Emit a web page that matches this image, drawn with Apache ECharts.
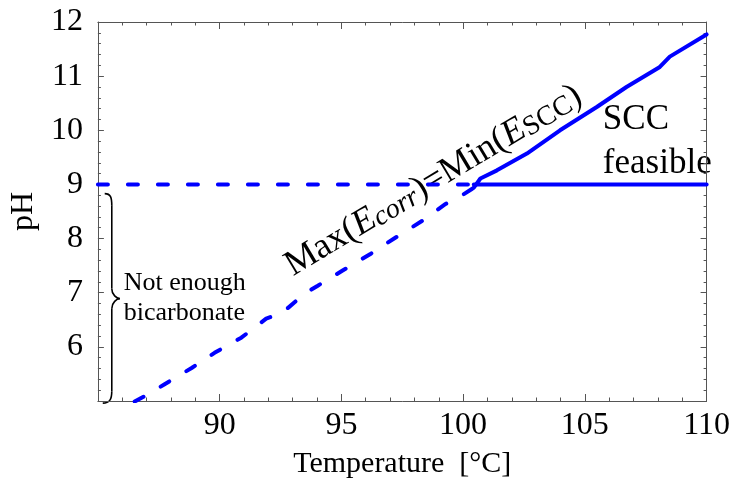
<!DOCTYPE html>
<html><head><meta charset="utf-8">
<script src="https://cdn.jsdelivr.net/npm/echarts@6/dist/echarts.min.js"></script>
<style>html,body{margin:0;padding:0;background:#fff}#c{width:733px;height:491px}</style>
</head><body><div id="c"></div>
<script>
const xTickLabels = [90, 95, 100, 105, 110];
const yTickLabels = [6, 7, 8, 9, 10, 11, 12];
const xRange = [85, 110];
const yRange = [5, 12];
const xTitle = 'Temperature  [°C]';
const yTitle = 'pH';
const thresholdDashed = [[85, 9], [100.44, 9]];
const thresholdSolid = [[100.44, 9], [110, 9]];
const boundaryDashed = [[86.51,4.99],[87.09,5.13],[87.74,5.31],[88.85,5.61],[89.79,5.89],[90.89,6.17],[91.42,6.35],[91.91,6.52],[92.45,6.61],[92.81,6.72],[93.48,6.98],[94.03,7.13],[95.05,7.41],[96.21,7.72],[97.23,8.02],[98.33,8.33],[99.28,8.64],[99.82,8.76],[100.44,8.94]];
const boundarySolid = [[100.44,8.94],[100.71,9.11],[101.39,9.26],[102.62,9.57],[103.98,10.0],[105.49,10.43],[106.71,10.8],[108.08,11.17],[108.49,11.36],[110,11.77]];

const FONT = 'Liberation Serif';
const AX = '#555';
const BLUE = '#0000ff';
const chart = echarts.init(document.getElementById('c'));

function axisCommon(tickLen) {
  return {
    axisLine: {show: true, lineStyle: {color: AX, width: 1}},
    axisTick: {show: true, inside: true, length: tickLen, lineStyle: {color: AX}},
    minorTick: {show: true, splitNumber: 5, length: tickLen / 2, lineStyle: {color: AX}},
    splitLine: {show: false},
    minorSplitLine: {show: false}
  };
}
const xAx = (pos, labels) => Object.assign(axisCommon(7), {
  type: 'value', position: pos, min: xRange[0], max: xRange[1], interval: 5,
  axisLabel: {show: labels, margin: 9, fontFamily: FONT, fontSize: 32, color: '#000',
    formatter: v => xTickLabels.includes(v) ? String(v) : ''}
});
const yAx = (pos, labels) => Object.assign(axisCommon(6), {
  type: 'value', position: pos, min: yRange[0], max: yRange[1], interval: 1,
  axisLabel: {show: labels, margin: 15, fontFamily: FONT, fontSize: 32, color: '#000',
    formatter: v => yTickLabels.includes(v) ? String(v) : ''}
});

const xMain = xAx('bottom', true);
xMain.name = xTitle; xMain.nameLocation = 'middle'; xMain.nameGap = 48;
xMain.nameTextStyle = {fontFamily: FONT, fontSize: 30, color: '#000'};
const yMain = yAx('left', true);
yMain.name = yTitle; yMain.nameLocation = 'middle'; yMain.nameGap = 55;
yMain.nameTextStyle = {fontFamily: FONT, fontSize: 32, color: '#000'};

const dashStyle = {color: BLUE, width: 4, type: [10, 20], cap: 'round'};
const solidStyle = {color: BLUE, width: 4, cap: 'round'};
const lineSeries = (data, style) => ({type: 'line', data, showSymbol: false, symbol: 'none',
  lineStyle: style, silent: true, animation: false, xAxisIndex: 0, yAxisIndex: 0});

chart.setOption({
  animation: false,
  grid: {left: 96, right: 26, top: 22, bottom: 90},
  xAxis: [xMain, xAx('top', false)],
  yAxis: [yMain, yAx('right', false)],
  series: [
    lineSeries(thresholdDashed, dashStyle),
    lineSeries(thresholdSolid, solidStyle),
    lineSeries(boundaryDashed, dashStyle),
    lineSeries(boundarySolid, solidStyle)
  ]
});

const px = (x, y) => chart.convertToPixel({gridIndex: 0}, [x, y]);
// brace geometry (data coordinates)
const bTop = px(85.28, 8.83), bMid = px(85.9, 6.89), bBot = px(85.2, 4.96), spine = px(85.57, 7)[0];
const tip = bMid[0];
const braceStroke = {fill: null, stroke: '#000', lineWidth: 1.6};
const bz = (x1, y1, cpx1, cpy1, cpx2, cpy2, x2, y2) => ({type: 'bezierCurve', silent: true,
  shape: {x1, y1, cpx1, cpy1, cpx2, cpy2, x2, y2}, style: braceStroke});
const ln = (x1, y1, x2, y2) => ({type: 'line', silent: true, shape: {x1, y1, x2, y2}, style: braceStroke});
const brace = [
  bz(bTop[0], bTop[1], spine - 1, bTop[1], spine, bTop[1] + 4, spine, bTop[1] + 12),
  ln(spine, bTop[1] + 12, spine, bMid[1] - 10),
  bz(spine, bMid[1] - 10, spine, bMid[1] - 4, tip - 3, bMid[1], tip, bMid[1]),
  bz(tip, bMid[1], tip - 3, bMid[1], spine, bMid[1] + 4, spine, bMid[1] + 10),
  ln(spine, bMid[1] + 10, spine, bBot[1] - 12),
  bz(spine, bBot[1] - 12, spine, bBot[1] - 4, spine - 2, bBot[1], bBot[0], bBot[1])
];

const notePos = px(86.06, 6.89);
const sccPos = px(105.74, 9.78);
const eqPos = px(98.74, 9.1);

chart.setOption({
  graphic: brace.concat([
    {type: 'text', x: notePos[0], y: notePos[1], silent: true,
      style: {text: 'Not enough\nbicarbonate', font: `26px "${FONT}"`, fill: '#000', align: 'left', verticalAlign: 'middle', lineHeight: 30}},
    {type: 'text', x: sccPos[0], y: sccPos[1], silent: true,
      style: {text: 'SCC\nfeasible', font: `35px "${FONT}"`, fill: '#000', align: 'left', verticalAlign: 'middle', lineHeight: 44}},
    {type: 'text', x: eqPos[0], y: eqPos[1], rotation: 31 * Math.PI / 180, silent: true,
      style: {
        text: '{m|Max(}{e|E}{s|corr}{m|)=Min(}{e|E}{t|SCC}{m|)}',
        align: 'center', verticalAlign: 'middle', fill: '#000',
        rich: {
          m: {fontFamily: FONT, fontSize: 36, lineHeight: 40, verticalAlign: 'bottom', fill: '#000'},
          e: {fontFamily: FONT, fontSize: 36, fontStyle: 'italic', lineHeight: 40, verticalAlign: 'bottom', fill: '#000'},
          s: {fontFamily: FONT, fontSize: 28, fontStyle: 'italic', lineHeight: 8, verticalAlign: 'bottom', fill: '#000'},
          t: {fontFamily: FONT, fontSize: 28, lineHeight: 8, verticalAlign: 'bottom', fill: '#000'}
        }
      }}
  ])
});
</script></body></html>
